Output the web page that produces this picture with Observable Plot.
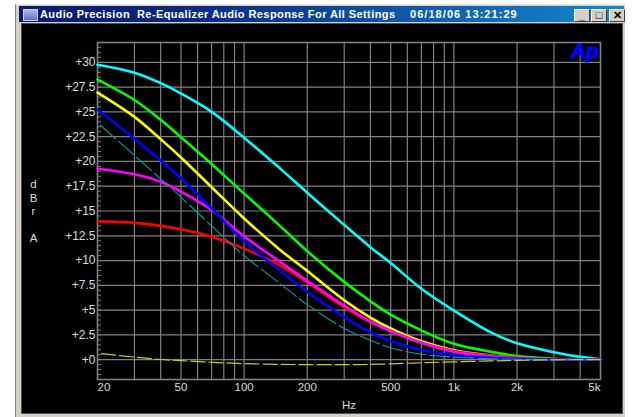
<!DOCTYPE html>
<html>
<head>
<meta charset="utf-8">
<script src="https://cdn.jsdelivr.net/npm/d3@7"></script>
<script src="https://cdn.jsdelivr.net/npm/@observablehq/plot@0.6"></script>
<style>
html,body{margin:0;padding:0;background:#fff;width:633px;height:417px;overflow:hidden}
#win{position:absolute;left:15px;top:4px;width:610px;height:413px;background:#d4d0c8;border-left:1px solid #808080;box-sizing:border-box;border-top:1px solid #e8e8e8}
#bar{position:absolute;left:3px;top:1px;right:1px;height:16px;background:linear-gradient(90deg,#08186e,#0a2a84 30%,#1488cc 100%);color:#fff;font:bold 11px "Liberation Sans",Arial,sans-serif;line-height:16px;white-space:pre}
#bar .t{position:absolute;top:0;letter-spacing:.42px}
#icon{position:absolute;left:4px;top:3px;width:13px;height:10px;background:linear-gradient(180deg,#b0b8e8,#6070c0);border:1px solid #c8d0f0}
.btn{position:absolute;top:3px;width:14px;height:11px;background:#d4d0c8;border:1px solid;border-color:#fff #404040 #404040 #fff;color:#000;font:bold 11px "Liberation Sans",sans-serif;line-height:10px;text-align:center}
#plot{position:absolute;left:22px;top:24px;width:600px;height:389px;outline:1px solid #505050}
#plot svg{display:block}
</style>
</head>
<body>
<div id="win">
  <div id="bar">
    <div id="icon"></div>
    <span class="t" style="left:21px">Audio Precision  Re-Equalizer Audio Response For All Settings</span>
    <span class="t" style="left:391px;letter-spacing:1.05px">06/18/06 13:21:29</span>
    <div class="btn" style="left:555px">_</div>
    <div class="btn" style="left:572px">□</div>
    <div class="btn" style="left:590px">✕</div>
  </div>
</div>
<div id="plot"></div>
<script>
const freq    = [20,30,40,50,70,100,150,200,300,400,500,700,1000,1500,2000,3000,4000,5000];
const cyan    = [29.75,28.95,27.9,26.85,25,22.4,19.2,16.85,13.6,11.35,9.75,7.15,4.95,2.75,1.65,0.75,0.28,0.05];
const green   = [28.25,26.2,24.2,22.45,19.75,16.75,13.4,10.95,7.85,5.9,4.55,2.95,1.6,0.8,0.37,0.1,0.02,0];
const yellow  = [26.95,24.5,22.25,20.4,17.4,14.25,11,8.95,6,4.25,3.15,1.85,0.95,0.42,0.17,0.04,0.01,0];
const red     = [13.95,13.8,13.5,13.15,12.4,11.2,9.45,7.8,5.3,3.8,2.9,1.7,0.88,0.4,0.2,0.04,0,0];
const blue    = [25.25,22.3,20.1,18.3,15.25,11.95,8.9,6.85,4.3,2.75,1.85,0.98,0.43,0.18,0.08,0.02,0,0];
const magenta = [19.27,18.7,17.95,16.95,15.1,12.45,9.8,7.95,5.45,3.85,2.9,1.7,0.8,0.33,0.13,0.02,0,0];
const teal    = [23.9,20.6,18.25,16.4,13.5,10.5,7.6,5.55,3.15,1.95,1.2,0.55,0.25,0.1,0.05,0.01,0,0];
const flat    = [0.65,0.26,0.02,-0.1,-0.26,-0.4,-0.47,-0.5,-0.5,-0.48,-0.42,-0.31,-0.22,-0.13,-0.07,-0.02,0,0];

const xGrid   = [30,40,50,60,70,80,90,100,200,300,400,500,600,700,800,900,1000,2000,3000,4000];
const xLabels = [50,100,200,500,1000,2000];
const yMajor  = [0,2.5,5,7.5,10,12.5,15,17.5,20,22.5,25,27.5,30];
const yMinor  = d3.range(-2,32.01,0.5);

const axisFont = {fontSize:11.5, fill:"#dcdcdc"};
const gridColor = "#808080";
const hz = d => d >= 1000 ? (d/1000)+"k" : String(d);
const thick = (vals, stroke) => Plot.line(freq,{x:freq,y:vals,stroke,strokeWidth:2.6,curve:"catmull-rom"});
const xText = (vals, textAnchor) => Plot.text(vals,{x:d=>d,text:hz,frameAnchor:"bottom",dy:8,lineAnchor:"middle",textAnchor,...axisFont});

const chart = Plot.plot({
  width:600, height:389,
  marginLeft:75, marginRight:22, marginTop:18, marginBottom:34,
  style:{background:"#000",fontFamily:"'Liberation Sans',Arial,sans-serif"},
  x:{type:"log",domain:[20,5000],axis:null},
  y:{domain:[-2,32]},
  marks:[
    Plot.gridX(xGrid,{x:d=>d,stroke:gridColor,strokeOpacity:1,strokeWidth:1.2}),
    Plot.gridY(yMajor,{y:d=>d,stroke:gridColor,strokeOpacity:1,strokeWidth:1.2}),
    Plot.frame({stroke:gridColor,strokeWidth:1.6}),
    Plot.axisY({ticks:yMinor,tickSize:-4,tickFormat:()=>"",stroke:gridColor,strokeOpacity:1,label:null}),
    Plot.axisY({ticks:yMajor,tickSize:0,tickPadding:2,tickFormat:d=>"+"+d,label:null,...axisFont,fontSize:12}),
    xText(xLabels,"middle"),
    xText([20],"start"),
    xText([5000],"end"),
    thick(cyan,"#00ffff"),
    thick(green,"#00ff00"),
    thick(yellow,"#ffff00"),
    thick(red,"#ff0000"),
    thick(magenta,"#ff00ff"),
    thick(blue,"#0000ff"),
    Plot.line(freq,{x:freq,y:teal,stroke:"#00a0a0",strokeWidth:1.1,strokeDasharray:"20,4",strokeDashoffset:-4,curve:"catmull-rom"}),
    Plot.line(freq,{x:freq,y:flat,stroke:"#d0d000",strokeWidth:1.2,strokeDasharray:"14,4",strokeDashoffset:-4,curve:"catmull-rom"}),
    Plot.text(["d\nB\nr\n\nA"],{frameAnchor:"left",dx:-64,textAnchor:"middle",lineHeight:1.17,...axisFont}),
    Plot.text(["Hz"],{frameAnchor:"bottom",dy:29,...axisFont}),
    Plot.text(["Ap"],{frameAnchor:"top-right",dx:-2,dy:1,lineAnchor:"top",textAnchor:"end",fill:"#0000ff",stroke:"#0000ff",strokeWidth:1,fontSize:21,fontWeight:"bold",fontStyle:"italic"})
  ]
});
document.getElementById("plot").append(chart);
</script>
</body>
</html>
